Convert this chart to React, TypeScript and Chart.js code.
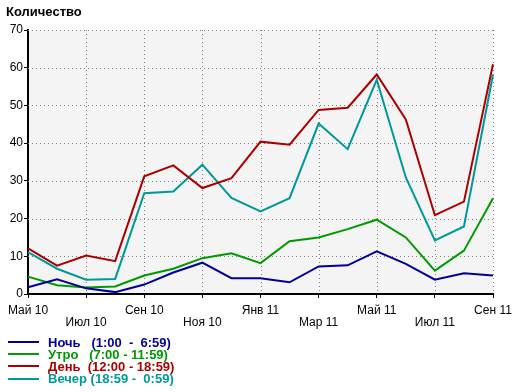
import React, { useEffect, useRef } from 'react';
import { Chart, registerables } from 'chart.js';

Chart.register(...registerables);

const months = ['Май 10', 'Июн 10', 'Июл 10', 'Авг 10', 'Сен 10', 'Окт 10', 'Ноя 10', 'Дек 10', 'Янв 11', 'Фев 11', 'Мар 11', 'Апр 11', 'Май 11', 'Июн 11', 'Июл 11', 'Авг 11', 'Сен 11'];
const night = [1.8, 3.9, 1.5, 0.5, 2.5, 5.7, 8.3, 4.2, 4.2, 3.1, 7.3, 7.6, 11.3, 8.0, 3.8, 5.5, 4.9];
const morning = [4.6, 2.3, 1.7, 2.0, 4.9, 6.7, 9.5, 10.8, 8.2, 14.0, 15.0, 17.2, 19.7, 15.0, 6.2, 11.5, 25.4];
const day = [12.1, 7.5, 10.2, 8.7, 31.2, 34.1, 28.1, 30.7, 40.4, 39.6, 48.8, 49.4, 58.2, 46.3, 20.9, 24.5, 60.9];
const evening = [11.1, 6.7, 3.8, 4.0, 26.7, 27.2, 34.3, 25.5, 21.9, 25.4, 45.2, 38.4, 56.8, 30.9, 14.2, 17.9, 58.2];

const seriesNames = ['Ночь', 'Утро', 'День', 'Вечер'];
const legendTexts = ['Ночь   (1:00  -  6:59)', 'Утро   (7:00 - 11:59)', 'День  (12:00 - 18:59)', 'Вечер (18:59 -  0:59)'];
const seriesColors = ['#000099', '#009900', '#aa0000', '#009999'];
const seriesData = [night, morning, day, evening];
const title = 'Количество';

const FONT = '"Liberation Sans", Arial, sans-serif';

const decorPlugin = {
  id: 'decor',
  beforeDraw(chart: any) {
    const { ctx, chartArea: a } = chart;
    ctx.save();
    ctx.fillStyle = '#f4f4f4';
    ctx.fillRect(a.left, a.top, a.right - a.left, a.bottom - a.top);
    ctx.restore();
  },
  beforeDatasetsDraw(chart: any) {
    const { ctx, chartArea: a, scales } = chart;
    const x = scales.x;
    const y = scales.y;
    ctx.save();
    ctx.strokeStyle = '#808080';
    ctx.lineWidth = 1;
    ctx.setLineDash([1, 3]);
    y.ticks.forEach((t: any) => {
      if (t.value === 0) return;
      const py = Math.round(y.getPixelForValue(t.value)) + 0.5;
      ctx.beginPath();
      ctx.moveTo(a.left, py);
      ctx.lineTo(a.right, py);
      ctx.stroke();
    });
    months.forEach((_m, i) => {
      if (i === 0 || i % 2 !== 0) return;
      const px = Math.round(x.getPixelForValue(i)) + 0.5;
      ctx.beginPath();
      ctx.moveTo(px, a.top);
      ctx.lineTo(px, a.bottom);
      ctx.stroke();
    });
    ctx.restore();
  },
  afterDraw(chart: any) {
    const { ctx } = chart;
    ctx.save();
    ctx.font = `bold 13px ${FONT}`;
    ctx.fillStyle = '#000';
    ctx.textBaseline = 'middle';
    ctx.fillText(title, 6, 12);
    legendTexts.forEach((txt, i) => {
      const cy = 342 + i * 12.2;
      ctx.strokeStyle = seriesColors[i];
      ctx.lineWidth = 2;
      ctx.beginPath();
      ctx.moveTo(8, Math.round(cy));
      ctx.lineTo(39, Math.round(cy));
      ctx.stroke();
      ctx.fillStyle = seriesColors[i];
      ctx.fillText(txt, 48, cy + 1);
    });
    ctx.restore();
  },
};

export default function App() {
  const ref = useRef<HTMLCanvasElement | null>(null);
  useEffect(() => {
    if (!ref.current) return;
    Chart.defaults.font.family = FONT;
    const chart = new Chart(ref.current, {
      type: 'line',
      data: {
        labels: months,
        datasets: seriesData.map((d, i) => ({
          label: seriesNames[i],
          data: d,
          borderColor: seriesColors[i],
          backgroundColor: seriesColors[i],
          borderWidth: 2,
          pointRadius: 0,
          tension: 0,
          fill: false,
        })),
      },
      options: {
        responsive: false,
        animation: false,
        devicePixelRatio: 1,
        layout: { padding: { top: 30, right: 27, bottom: 56, left: 0 } },
        plugins: { legend: { display: false }, tooltip: { enabled: false }, title: { display: false } },
        scales: {
          x: {
            type: 'category',
            offset: false,
            border: { color: '#000', width: 2 },
            grid: {
              drawOnChartArea: false,
              drawTicks: true,
              tickLength: 4,
              tickColor: (c: any) => (c.index % 2 === 0 ? '#000' : 'rgba(0,0,0,0)'),
              color: 'rgba(0,0,0,0)',
            },
            ticks: {
              autoSkip: false,
              maxRotation: 0,
              minRotation: 0,
              padding: 7,
              color: '#000',
              font: { size: 12, lineHeight: 1 },
              callback: (_v: any, idx: number) =>
                idx % 2 === 0 ? (idx % 4 === 0 ? [months[idx]] : ['', months[idx]]) : '',
            },
            afterFit: (s: any) => {
              s.height = 42;
            },
          },
          y: {
            min: 0,
            max: 70,
            border: { color: '#000', width: 2 },
            grid: {
              drawOnChartArea: false,
              drawTicks: true,
              tickLength: 4,
              tickColor: '#000',
              color: 'rgba(0,0,0,0)',
            },
            ticks: {
              stepSize: 10,
              padding: 1,
              color: '#000',
              font: { size: 12 },
            },
            afterFit: (s: any) => {
              s.width = 28;
            },
          },
        },
      },
      plugins: [decorPlugin],
    });
    return () => chart.destroy();
  }, []);
  return (
    <div style={{ position: 'absolute', left: 0, top: 0, width: 520, height: 392, background: '#fff' }}>
      <canvas ref={ref} width={520} height={392} />
    </div>
  );
}
